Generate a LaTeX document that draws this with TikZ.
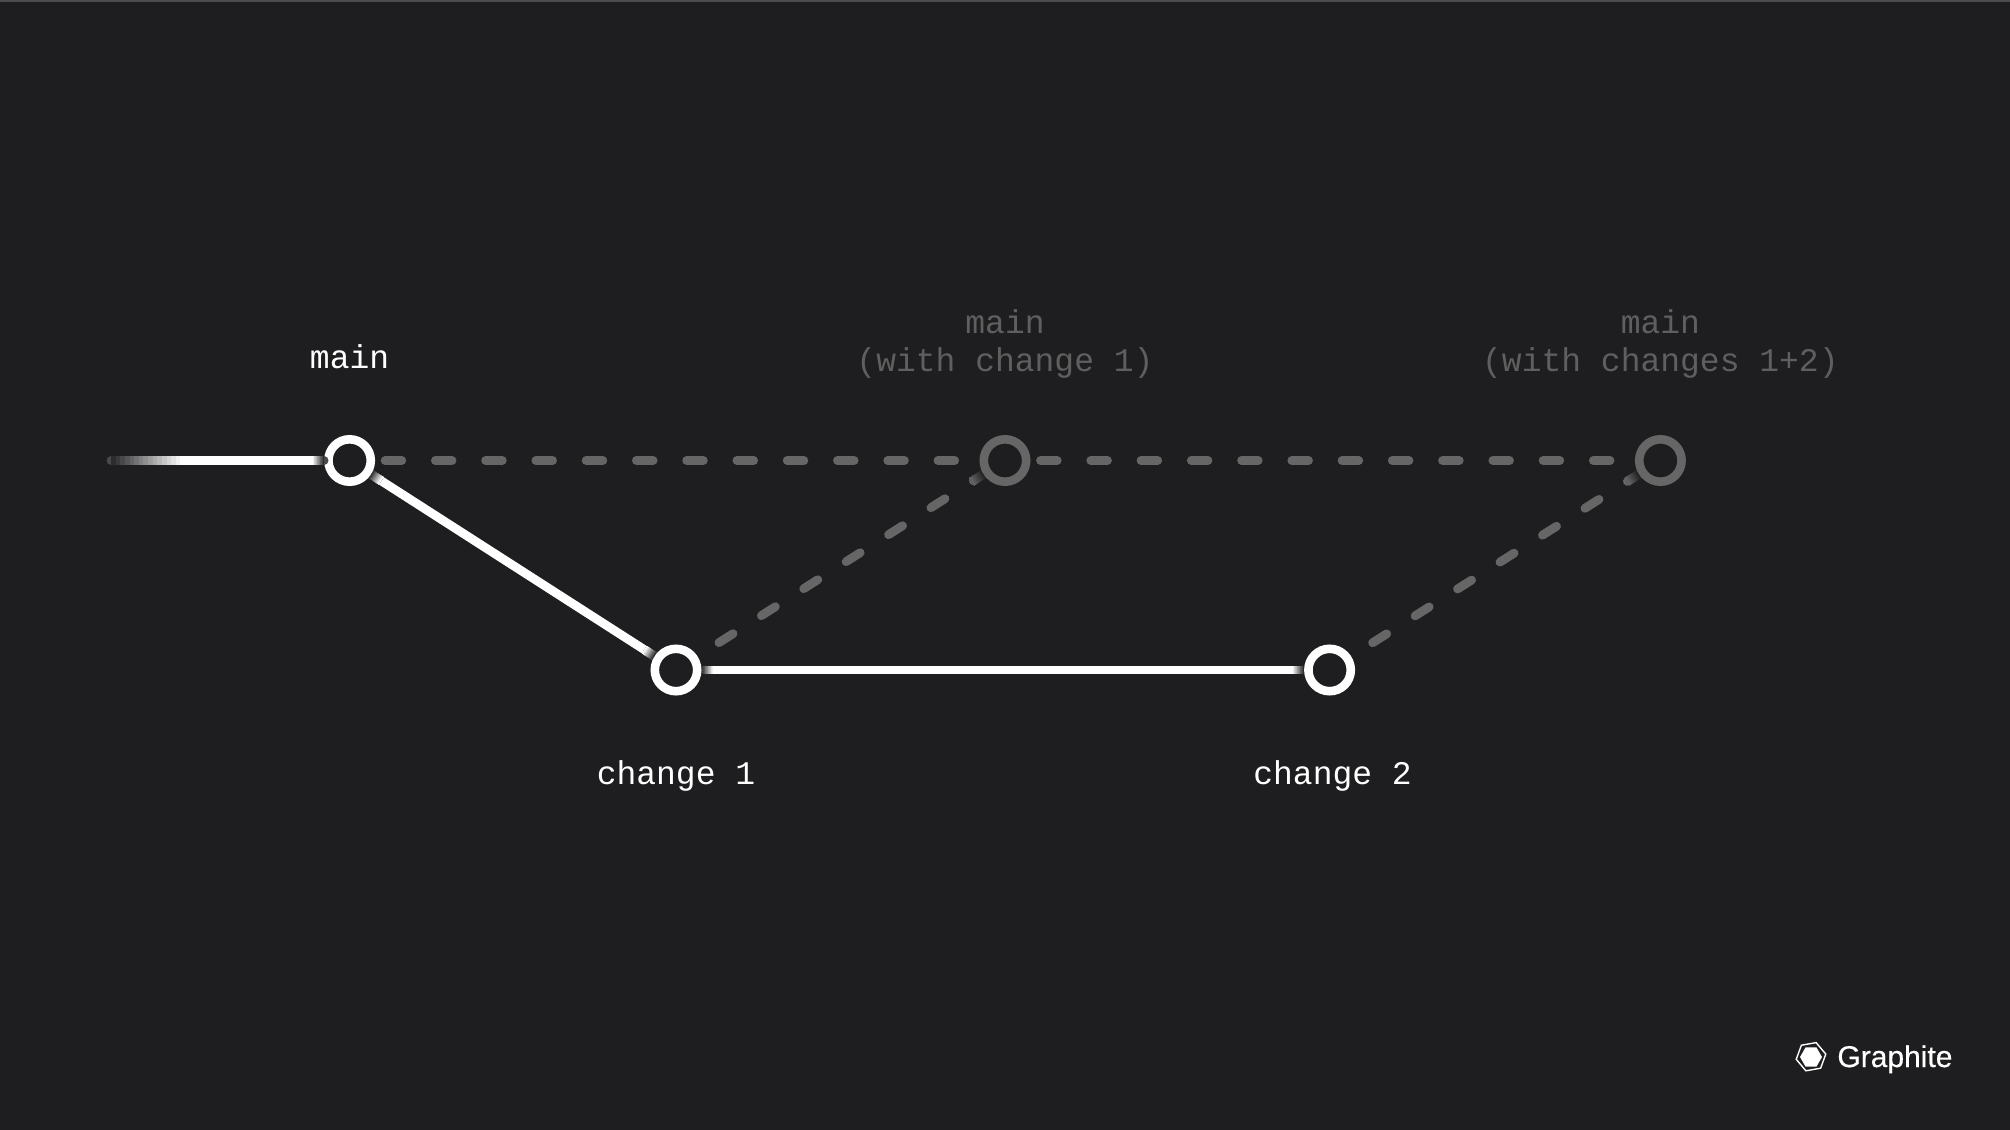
\documentclass[tikz,border=0pt]{standalone}
\usepackage{fontspec}
\setmainfont{Liberation Sans}
\setmonofont{Liberation Mono}
\newfontfamily\logofont[FakeBold=0.4]{Liberation Sans}
\usetikzlibrary{positioning,calc,shapes.geometric}

\definecolor{bgdark}{HTML}{1E1E20}
\definecolor{dimgray}{HTML}{666666}
\definecolor{dimtext}{HTML}{5F5F5F}

% short ramp from the background up to a colour, from the rim of one node towards another
\newcommand{\fadeend}[4]{
    \path (#1) -- (#2) coordinate[pos=0] (fadestart);
    \coordinate (fadestop) at ($(fadestart)!#3!(#2)$);
    \foreach \i [evaluate=\i as \p using 100*(\i+1)/16] in {0,...,15}
        \draw[line width=4.4pt, #4!\p!bgdark] ($(fadestart)!\i/16!(fadestop)$) -- (fadestop);
}

\begin{document}
\begin{tikzpicture}[x=0.5pt, y=-0.5pt,
    commitnode/.style={circle, draw=white, line width=4.3pt, fill=bgdark, minimum size=21.2pt, inner sep=0pt, outer sep=2.15pt, on grid},
    ghostnode/.style={commitnode, draw=dimgray},
    labelnode/.style={text=white, font=\ttfamily\fontsize{16.5pt}{19pt}\selectfont, align=center, inner sep=0pt},
    ghostlabel/.style={labelnode, text=dimtext},
    solidline/.style={draw=white, line width=4.4pt},
    ghostline/.style={draw=dimgray, line width=4.4pt, line cap=round, dash pattern=on 8.35pt off 16.78pt}]

    \useasboundingbox (0,0) rectangle (2010,1130);
    \fill[bgdark] (0,0) rectangle (2010,1130);
    \fill[black!70!white] (0,0) rectangle (2010,1.5);

    \node[commitnode] (main) at (349.6,460.5) {};
    \node[ghostnode] (main1) [right=327.7pt of main] {};
    \node[ghostnode] (main2) [right=327.7pt of main1] {};
    \node[commitnode] (change1) [below right=104.75pt and 163.2pt of main] {};
    \node[commitnode] (change2) [right=326.8pt of change1] {};
    \coordinate (tail) at (111,460.5);

    \node[labelnode] (mainlabel) [above=33pt of main] {main};
    \node[ghostlabel] (main1label) [above=27.9pt of main1] {main\\(with change 1)};
    \node[ghostlabel] (main2label) [above=27.9pt of main2] {main\\(with changes 1+2)};
    \node[labelnode] (change1label) [below=32.2pt of change1] {change 1};
    \node[labelnode] (change2label) [below=32.2pt of change2, xshift=1.5pt] {change 2};

    \draw[solidline, draw=dimgray!60!bgdark, line cap=round] (tail) -- (main);
    \draw[solidline] (tail) -- (main);
    \draw[solidline] (main) -- (change1);
    \draw[solidline] (change1) -- (change2);
    \draw[ghostline, shorten <=5pt] (main) -- (main1);
    \draw[ghostline, shorten <=5pt] (main1) -- (main2);
    \draw[ghostline, shorten <=12.7pt] (change1) -- (main1);
    \draw[ghostline, shorten <=12.7pt] (change2) -- (main2);

    \fadeend{tail}{main}{37pt}{white}
    \fadeend{main}{tail}{6pt}{white}
    \fadeend{main}{change1}{6pt}{white}
    \fadeend{change1}{main}{6pt}{white}
    \fadeend{change1}{change2}{6pt}{white}
    \fadeend{change2}{change1}{6pt}{white}
    \fadeend{main1}{change1}{7pt}{dimgray}
    \fadeend{main2}{change2}{7pt}{dimgray}

    \node[regular polygon, regular polygon sides=6, fill=white, minimum size=11pt, inner sep=0pt] (logocore) at (1811,1057) {};
    \node[regular polygon, regular polygon sides=6, draw=white, line width=0.7pt, minimum size=15pt, inner sep=0pt, rotate=10] (logoring) at (1811,1056.7) {};
    \node[text=white, font=\logofont\fontsize{15pt}{18pt}\selectfont, inner sep=0pt, anchor=base west] (logotext) at (1837,1067) {Graphite};

\end{tikzpicture}
\end{document}
